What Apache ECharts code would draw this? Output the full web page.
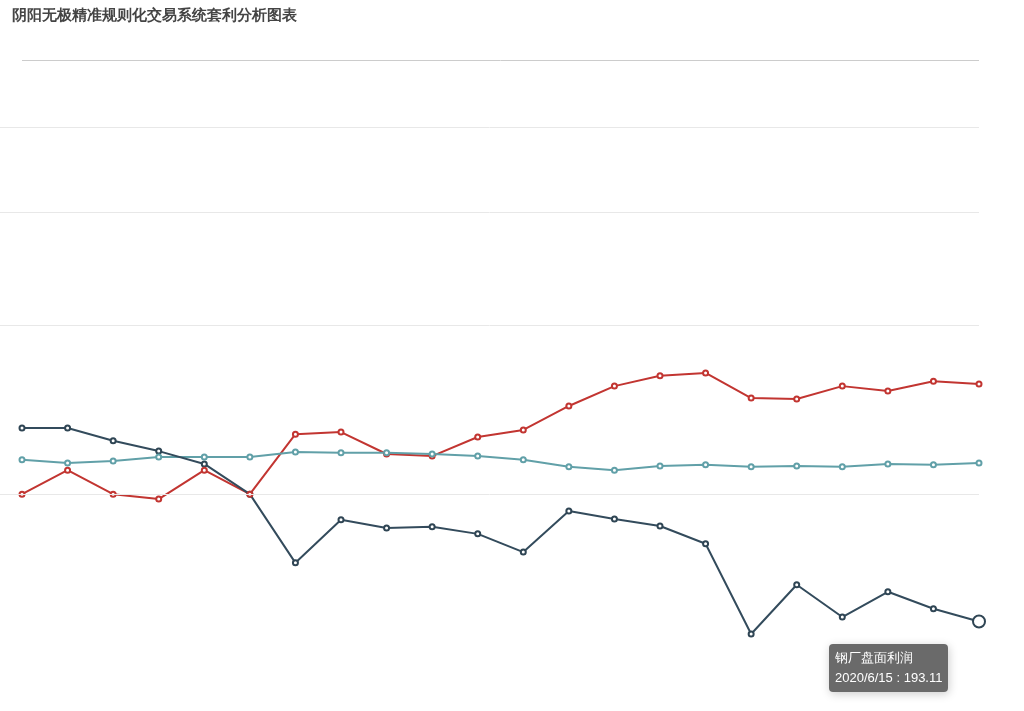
<!DOCTYPE html>
<html><head><meta charset="utf-8">
<script src="https://cdn.jsdelivr.net/npm/echarts@6/dist/echarts.min.js"></script>
<style>html,body{margin:0;padding:0;background:#fff}#c{width:1024px;height:711px}</style>
</head><body><div id="c"></div>
<script>
const dates = ['2020/1/13','2020/1/20','2020/1/27','2020/2/3','2020/2/10','2020/2/17','2020/2/24','2020/3/2','2020/3/9','2020/3/16','2020/3/23','2020/3/30','2020/4/6','2020/4/13','2020/4/20','2020/4/27','2020/5/4','2020/5/11','2020/5/18','2020/5/25','2020/6/1','2020/6/8','2020/6/15'];
const steelProfit = [700,661,661,630,605,574,501,335,439,419,422,405,361,460,441,424,381,163,282,204,265,224,193.11];
const redSeries = [494,501,559,501,489,559,501,646,651,598,593,639,656,714,762,787,794,733,731,762,750,774,767];
const tealSeries = [581,584,576,581,591,591,591,603,601,601,598,593,584,567,559,569,572,567,569,567,574,572,576];
const gridValues = [1388,1183,910,500];
const chart = echarts.init(document.getElementById('c'));
const sym = {type:'line',symbol:'emptyCircle',symbolSize:5,clip:false,lineStyle:{width:2},emphasis:{scale:2.4}};
chart.setOption({
  animation:false,
  color:['#2f4554','#c23531','#61a0a8'],
  title:{text:'阴阳无极精准规则化交易系统套利分析图表',left:7,top:3,textStyle:{fontSize:15,fontWeight:'bold',color:'#444'}},
  tooltip:{trigger:'item',alwaysShowContent:true,formatter:'{a}<br/>{b} : {c}',backgroundColor:'rgba(80,80,80,0.85)',borderWidth:0,textStyle:{color:'#fff',fontSize:13},padding:[4,6],
    position:function(p){return [p[0]-150,p[1]+22];}},
  grid:{left:22,right:45,top:60,bottom:0},
  xAxis:{type:'category',data:dates,boundaryGap:false,show:false,min:1},
  yAxis:{type:'value',min:-23,max:1550,show:false,splitLine:{show:false}},
  series:[
    Object.assign({name:'钢厂盘面利润',data:steelProfit,z:3,
      markLine:{silent:true,symbol:'none',label:{show:false},lineStyle:{color:'#e8e8e8',type:'solid',width:1},data:gridValues.map(v=>({yAxis:v,x:0}))}},sym),
    Object.assign({name:'螺纹盘面利润',data:redSeries},sym),
    Object.assign({name:'热卷盘面利润',data:tealSeries,
      markLine:{silent:true,symbol:'none',label:{show:false},lineStyle:{color:'#ccc',type:'solid',width:1},data:[{yAxis:1550}]}},sym)
  ]
});
chart.dispatchAction({type:'highlight',seriesIndex:0,dataIndex:22});
chart.dispatchAction({type:'showTip',seriesIndex:0,dataIndex:22});
</script></body></html>
